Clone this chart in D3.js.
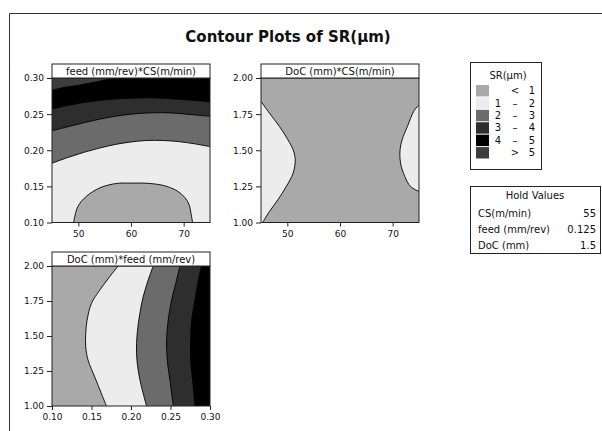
<!DOCTYPE html>
<html>
<head>
<meta charset="utf-8">
<script src="https://cdn.jsdelivr.net/npm/d3@7"></script>
<style>
  body { margin: 0; background: #fff; }
  text { font-family: "DejaVu Sans", sans-serif; fill: #111; }
</style>
</head>
<body>
<script>
// ticks
var csTicks = [50, 60, 70];
var feedTicks = [0.10, 0.15, 0.20, 0.25, 0.30];
var docTicks = [1.00, 1.25, 1.50, 1.75, 2.00];

// legend
var srLevels = ["< 1", "1 – 2", "2 – 3", "3 – 4", "4 – 5", "> 5"];
var srColors = ["#a9a9a9", "#ececec", "#6b6b6b", "#2e2e2e", "#000000", "#3d3d3d"];

var holdNames = ["CS(m/min)", "feed (mm/rev)", "DoC (mm)"];
var holdValues = ["55", "0.125", "1.5"];

// contour lines, [x, y] in data units
// panel 1: x = CS, y = feed
var p1Line1 = [[49.1,0.10],[49.9,0.122],[51.5,0.136],[54.1,0.148],[57.2,0.154],[59.8,0.1545],[63.6,0.154],[66.8,0.150],[69.3,0.141],[70.9,0.127],[71.5,0.108],[71.7,0.10]];
var p1Line2 = [[45,0.182],[48,0.190],[51,0.197],[54,0.203],[57,0.208],[60,0.2115],[63,0.2135],[66,0.2135],[69,0.212],[72,0.209],[75,0.205]];
var p1Line3 = [[45,0.227],[48,0.2325],[51,0.238],[54,0.243],[57,0.247],[60,0.250],[63,0.2515],[66,0.252],[69,0.251],[72,0.249],[75,0.247]];
var p1Line4 = [[45,0.257],[48,0.262],[51,0.266],[54,0.269],[57,0.271],[60,0.272],[63,0.2725],[66,0.272],[69,0.2705],[72,0.269],[75,0.267]];
var p1Line5 = [[45,0.283],[47,0.2865],[50,0.290],[53,0.294],[56,0.2985],[58,0.30]];

// panel 2: x = CS, y = DoC
var p2Left = [[45,1.838],[46.6,1.757],[48.5,1.665],[50.1,1.573],[51.1,1.503],[51.5,1.434],[51.1,1.342],[49.8,1.249],[48.2,1.157],[46.6,1.076],[45.6,1.018],[45.3,1.0]];
var p2Right = [[75,1.815],[74.0,1.769],[72.8,1.665],[71.8,1.573],[71.4,1.503],[71.5,1.411],[72.3,1.319],[73.4,1.249],[75,1.215]];

// panel 3: x = feed, y = DoC
var p3Line1 = [[0.1837,2.0],[0.1731,1.924],[0.1605,1.828],[0.1499,1.733],[0.1444,1.613],[0.1427,1.518],[0.1427,1.422],[0.1457,1.327],[0.1541,1.208],[0.1626,1.088],[0.1689,1.0]];
var p3Line2 = [[0.2281,2.0],[0.2218,1.900],[0.2154,1.780],[0.2112,1.661],[0.2078,1.518],[0.2070,1.375],[0.2091,1.255],[0.2133,1.136],[0.2197,1.0]];
var p3Line3 = [[0.2619,2.0],[0.2577,1.900],[0.2514,1.757],[0.2471,1.613],[0.2450,1.470],[0.2459,1.327],[0.2493,1.184],[0.2535,1.0]];
var p3Line4 = [[0.2894,2.0],[0.2852,1.900],[0.2810,1.757],[0.2767,1.613],[0.2755,1.470],[0.2755,1.327],[0.2780,1.184],[0.2810,1.0]];

var svg = d3.select("body").append("svg")
    .attr("width", 602)
    .attr("height", 431);

// outer frame (left + top only, rest runs off the picture)
svg.append("path")
    .attr("d", "M9.5,431V13.5H602")
    .attr("fill", "none")
    .attr("stroke", "#333")
    .attr("stroke-width", 1);

svg.append("text")
    .attr("x", 288)
    .attr("y", 42)
    .attr("text-anchor", "middle")
    .style("font-size", "15px")
    .style("font-weight", "bold")
    .text("Contour Plots of SR(μm)");

var panels = [
    {id: "p1", title: "feed (mm/rev)*CS(m/min)", left: 52, right: 210, top: 78, bottom: 222.5,
     xDomain: [45, 75], yDomain: [0.10, 0.30], xTicks: csTicks, yTicks: feedTicks,
     xFmt: d3.format("d"), yFmt: d3.format(".2f"), bg: 1,
     regions: [
        {pts: p1Line1, close: [], fill: 0},
        {pts: p1Line2, close: [[75,0.30],[45,0.30]], fill: 2},
        {pts: p1Line3, close: [[75,0.30],[45,0.30]], fill: 3},
        {pts: p1Line4, close: [[75,0.30],[45,0.30]], fill: 4},
        {pts: p1Line5, close: [[45,0.30]], fill: 5}
     ]},
    {id: "p2", title: "DoC (mm)*CS(m/min)", left: 261, right: 419, top: 78, bottom: 222.5,
     xDomain: [45, 75], yDomain: [1.0, 2.0], xTicks: csTicks, yTicks: docTicks,
     xFmt: d3.format("d"), yFmt: d3.format(".2f"), bg: 0,
     regions: [
        {pts: p2Left, close: [[45,1.0]], fill: 1},
        {pts: p2Right, close: [], fill: 1}
     ]},
    {id: "p3", title: "DoC (mm)*feed (mm/rev)", left: 52, right: 210, top: 266, bottom: 406,
     xDomain: [0.10, 0.30], yDomain: [1.0, 2.0], xTicks: feedTicks, yTicks: docTicks,
     xFmt: d3.format(".2f"), yFmt: d3.format(".2f"), bg: 0,
     regions: [
        {pts: p3Line1, close: [[0.30,1.0],[0.30,2.0]], fill: 1},
        {pts: p3Line2, close: [[0.30,1.0],[0.30,2.0]], fill: 2},
        {pts: p3Line3, close: [[0.30,1.0],[0.30,2.0]], fill: 3},
        {pts: p3Line4, close: [[0.30,1.0],[0.30,2.0]], fill: 4}
     ]}
];

panels.forEach(drawPanel);

function drawPanel(p) {
    var x = d3.scaleLinear().domain(p.xDomain).range([p.left, p.right]);
    var y = d3.scaleLinear().domain(p.yDomain).range([p.bottom, p.top]);

    var line = d3.line()
        .x(function(d) { return x(d[0]); })
        .y(function(d) { return y(d[1]); })
        .curve(d3.curveCatmullRom.alpha(0.5));

    svg.append("clipPath").attr("id", "clip-" + p.id)
        .append("rect")
        .attr("x", p.left).attr("y", p.top)
        .attr("width", p.right - p.left).attr("height", p.bottom - p.top);

    var g = svg.append("g").attr("clip-path", "url(#clip-" + p.id + ")");

    g.append("rect")
        .attr("x", p.left).attr("y", p.top)
        .attr("width", p.right - p.left).attr("height", p.bottom - p.top)
        .attr("fill", srColors[p.bg]);

    p.regions.forEach(function(r) {
        var d = line(r.pts) + r.close.map(function(c) { return "L" + x(c[0]) + "," + y(c[1]); }).join("") + "Z";
        g.append("path").attr("d", d).attr("fill", srColors[r.fill]).attr("stroke", "none");
    });
    p.regions.forEach(function(r) {
        g.append("path").attr("d", line(r.pts))
            .attr("fill", "none").attr("stroke", "#000").attr("stroke-width", 0.9);
    });

    var xAxis = svg.append("g")
        .attr("transform", "translate(0," + p.bottom + ")")
        .call(d3.axisBottom(x).tickValues(p.xTicks).tickFormat(p.xFmt).tickSize(4).tickSizeOuter(0).tickPadding(4));
    var yAxis = svg.append("g")
        .attr("transform", "translate(" + p.left + ",0)")
        .call(d3.axisLeft(y).tickValues(p.yTicks).tickFormat(p.yFmt).tickSize(5).tickSizeOuter(0).tickPadding(3));
    [xAxis, yAxis].forEach(function(a) {
        a.select(".domain").remove();
        a.selectAll("text").style("font-family", "DejaVu Sans").style("font-size", "9px").attr("fill", "#111");
        a.selectAll("line").attr("stroke", "#222");
    });

    svg.append("rect")
        .attr("x", p.left).attr("y", p.top)
        .attr("width", p.right - p.left).attr("height", p.bottom - p.top)
        .attr("fill", "none").attr("stroke", "#222").attr("stroke-width", 1);

    // title box
    svg.append("rect")
        .attr("x", p.left).attr("y", p.top - 14)
        .attr("width", p.right - p.left).attr("height", 14)
        .attr("fill", "#fff").attr("stroke", "#222").attr("stroke-width", 1);
    svg.append("text")
        .attr("x", (p.left + p.right) / 2).attr("y", p.top - 3.5)
        .attr("text-anchor", "middle")
        .style("font-size", "10px")
        .text(p.title);
}

// legend
var lg = svg.append("g");
lg.append("rect").attr("x", 470.5).attr("y", 62.5).attr("width", 71).attr("height", 107)
    .attr("fill", "#fff").attr("stroke", "#222");
lg.append("text").attr("x", 508).attr("y", 79).attr("text-anchor", "middle")
    .style("font-size", "10px").text("SR(μm)");

var rowY = d3.scaleBand().domain(srLevels).range([85, 158.5]).paddingInner(0.08);
srLevels.forEach(function(lv, i) {
    var yy = rowY(lv);
    lg.append("rect").attr("x", 476).attr("y", yy).attr("width", 13).attr("height", rowY.bandwidth())
        .attr("fill", srColors[i]);
    var parts = lv.split(" ");
    var cols = parts.length === 3 ? [498, 515, 532] : [515, 532];
    parts.forEach(function(t, j) {
        lg.append("text").attr("x", cols[j]).attr("y", yy + rowY.bandwidth() / 2 + 3.5)
            .attr("text-anchor", "middle").style("font-size", "10px").text(t);
    });
});

// hold values
var hg = svg.append("g");
hg.append("rect").attr("x", 470.5).attr("y", 186.5).attr("width", 130).attr("height", 67)
    .attr("fill", "#fff").attr("stroke", "#222");
hg.append("text").attr("x", 535).attr("y", 199).attr("text-anchor", "middle")
    .style("font-size", "10px").text("Hold Values");
var holdY = d3.scalePoint().domain(holdNames).range([217, 249]);
holdNames.forEach(function(n, i) {
    hg.append("text").attr("x", 478).attr("y", holdY(n)).style("font-size", "10px").text(n);
    hg.append("text").attr("x", 596).attr("y", holdY(n)).attr("text-anchor", "end")
        .style("font-size", "10px").text(holdValues[i]);
});
</script>
</body>
</html>
